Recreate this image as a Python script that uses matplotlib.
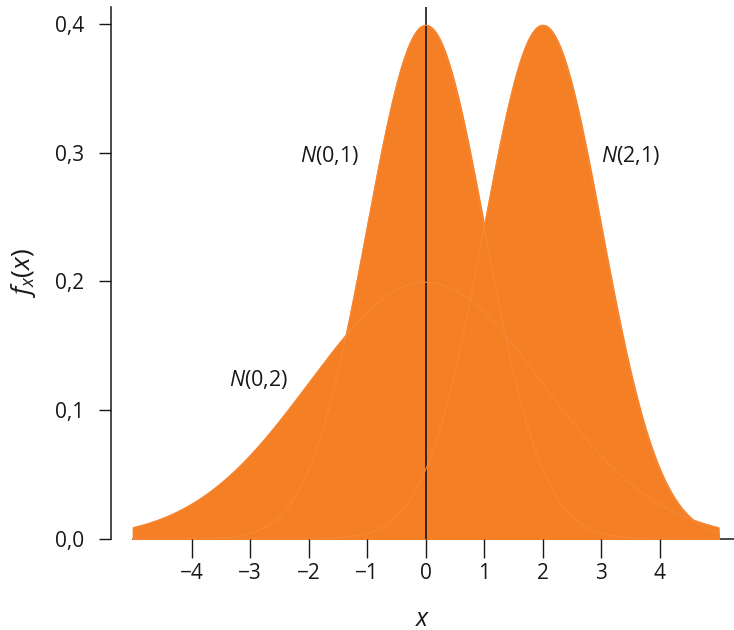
import numpy as np
import matplotlib
matplotlib.use("Agg")
import matplotlib.pyplot as plt
from matplotlib import font_manager

# distributions shown: N(mean, sd)
labels = ["N(0,2)", "N(0,1)", "N(2,1)"]
means = [0, 0, 2]
sds = [2, 1, 1]
label_x = [-2.86, -1.64, 3.5]
label_y = [0.1235, 0.298, 0.298]

x_ticks = [-4, -3, -2, -1, 0, 1, 2, 3, 4]
y_ticks = [0.0, 0.1, 0.2, 0.3, 0.4]
y_tick_labels = ["0,0", "0,1", "0,2", "0,3", "0,4"]

FILL = "#F47F24"
EDGE = "#F6893A"
INK = "#1A1718"


def pick_font():
    for name in ["Liberation Sans Narrow", "Open Sans", "DejaVu Sans"]:
        try:
            font_manager.findfont(name, fallback_to_default=False)
            return name
        except Exception:
            pass
    return "DejaVu Sans"


font = pick_font()
plt.rcParams["font.family"] = [font, "DejaVu Sans"]
plt.rcParams["mathtext.fontset"] = "custom"
plt.rcParams["mathtext.rm"] = font
plt.rcParams["mathtext.it"] = font + ":italic"

fig = plt.figure(figsize=(7.34, 6.3), dpi=100)
ax = fig.add_axes([111 / 734, 91 / 630, 623 / 734, 532 / 630])

xs = np.linspace(-5, 5, 601)
curves = []
for m, s in zip(means, sds):
    curves.append(np.exp(-0.5 * ((xs - m) / s) ** 2) / (s * np.sqrt(2 * np.pi)))

for ys in curves:
    ax.fill_between(xs, 0, ys, facecolor=FILL, edgecolor=FILL, linewidth=1.5, zorder=1)

ax.axvline(0, color=INK, linewidth=1.2, zorder=2)

# faint outlines of each density
for ys in curves:
    ax.plot(xs, ys, color=EDGE, linewidth=0.8, zorder=3)

for lab, lx, ly in zip(labels, label_x, label_y):
    ax.text(lx, ly, "$N$" + lab[1:], fontsize=15.5, color=INK, ha="center", va="center", zorder=4)

ax.set_xlim(-5.38, 5.27)
ax.set_ylim(0, 0.4132)
ax.set_xticks(x_ticks)
ax.set_xticklabels(["\u2212" + str(-t) if t < 0 else str(t) for t in x_ticks])
ax.set_yticks(y_ticks)
ax.set_yticklabels(y_tick_labels)

for side in ["top", "right"]:
    ax.spines[side].set_visible(False)
ax.spines["bottom"].set_bounds(-5, 5.27)
ax.spines["left"].set_bounds(0, 0.4132)
for side in ["bottom", "left"]:
    ax.spines[side].set_color(INK)
    ax.spines[side].set_linewidth(1.1)
    ax.spines[side].set_zorder(0)

ax.tick_params(axis="x", direction="out", length=13.5, width=1.0, color=INK,
               labelsize=15, labelcolor=INK, pad=4)
ax.tick_params(axis="y", direction="out", length=8.5, width=1.0, color=INK,
               labelsize=15, labelcolor=INK, pad=11)

ax.set_xlabel("$x$", fontsize=18, color=INK, labelpad=16)
ax.set_ylabel("$f_x(x)$", fontsize=19, color=INK, labelpad=12)

fig.savefig("out.png", dpi=100)
